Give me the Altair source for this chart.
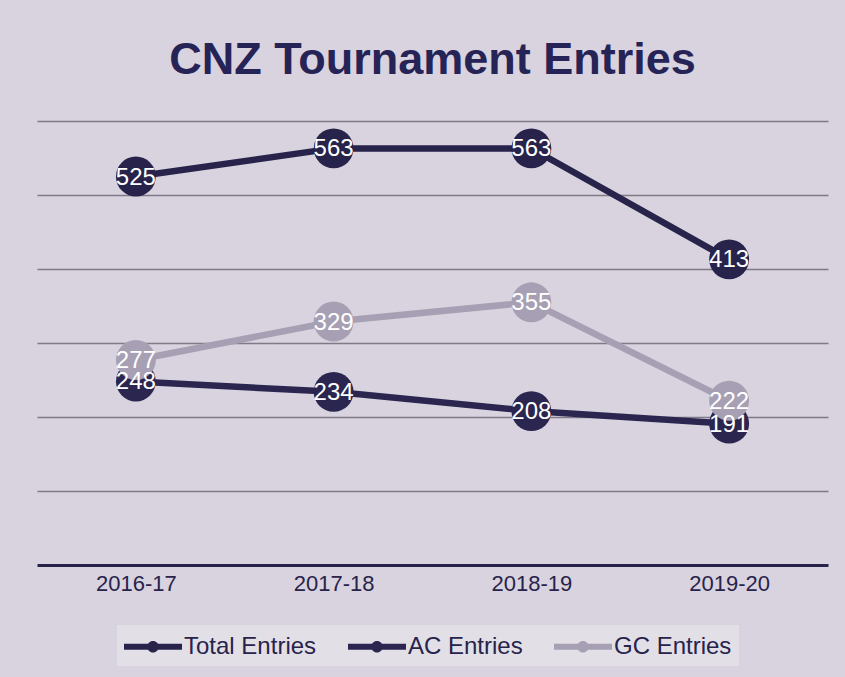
import altair as alt
import pandas as pd

seasons = ["2016-17", "2017-18", "2018-19", "2019-20"]
total_entries = [525, 563, 563, 413]
ac_entries = [248, 234, 208, 191]
gc_entries = [277, 329, 355, 222]
series_names = ["Total Entries", "AC Entries", "GC Entries"]
series_colors = ["#27234b", "#2a2650", "#a79fb4"]

rows = []
for name, vals in zip(series_names, [total_entries, ac_entries, gc_entries]):
    for s, v in zip(seasons, vals):
        rows.append({"Season": s, "Series": name, "Value": v, "order": series_names.index(name)})
df = pd.DataFrame(rows)

navy = "#27234b"
font = "Liberation Sans"

x = alt.X("Season:N", sort=seasons, title=None,
          scale=alt.Scale(type="point", padding=0.5),
          axis=alt.Axis(labelAngle=0, labelFontSize=22, labelColor=navy, labelFont=font,
                        labelPadding=8, ticks=False, domainColor=navy, domainWidth=3,
                        grid=False))
y = alt.Y("Value:Q", title=None,
          scale=alt.Scale(domain=[0, 600], nice=False),
          axis=alt.Axis(values=[100, 200, 300, 400, 500, 600], labels=False, ticks=False,
                        domain=False, grid=True, gridColor="#7f7a86", gridWidth=1.3))
color_scale = alt.Scale(domain=series_names, range=series_colors)

# wide legend glyph: a bar with a dot in the middle (path units: 1 = half of sqrt(size))
legend_path = ("M-1,-0.2L3,-0.2L3,0.2L-1,0.2Z "
               "M0.6,0A0.4,0.4 0 1,1 1.4,0A0.4,0.4 0 1,1 0.6,0Z")

legend = alt.Legend(title=None, orient="none", direction="horizontal",
                    legendX=80, legendY=504,
                    symbolType=legend_path, symbolSize=841,
                    symbolStrokeWidth=0, symbolOpacity=1,
                    labelFontSize=24, labelFont=font, labelColor=navy,
                    labelOffset=31, columnPadding=31,
                    fillColor="#e2dfe7", padding=7)

lines = alt.Chart(df).mark_line(strokeWidth=6.5).encode(
    x=x, y=y,
    color=alt.Color("Series:N", scale=color_scale, sort=series_names, legend=legend),
    detail="Series:N",
)

points = alt.Chart(df).mark_circle(size=1590, opacity=1).encode(
    x=x, y=y,
    color=alt.Color("Series:N", scale=color_scale, sort=series_names, legend=legend),
    order="order:Q",
)

labels = alt.Chart(df).mark_text(color="white", fontSize=24, font=font,
                                 align="center", baseline="middle", dy=1).encode(
    x=x, y=y, text="Value:Q",
)

chart = alt.layer(lines, points, labels).properties(
    width=791, height=444,
    autosize=alt.AutoSizeParams(type="none"),
    padding={"left": 37, "top": 121, "right": 17, "bottom": 112},
    background="#d8d3de",
    title=alt.TitleParams("CNZ Tournament Entries", fontSize=45, font=font,
                          fontWeight="bold", color="#262356", anchor="middle",
                          baseline="alphabetic", offset=2, frame="group"),
).configure_view(stroke=None)

chart.save("out.html", embed_options={"renderer": "svg", "actions": False})
